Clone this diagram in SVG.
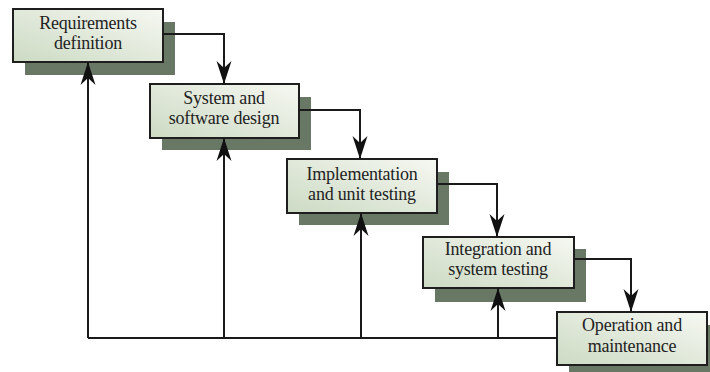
<svg xmlns="http://www.w3.org/2000/svg" width="710" height="372" viewBox="0 0 710 372">
<defs>
<linearGradient id="g" x1="0" y1="1" x2="1" y2="0">
<stop offset="0" stop-color="#ccdac3"/>
<stop offset="1" stop-color="#f6f8f2"/>
</linearGradient>
<marker id="ah" viewBox="-24 -9 26 18" refX="0" refY="0" markerWidth="26" markerHeight="18" markerUnits="userSpaceOnUse" orient="auto">
<path d="M0,0 L-23,-7.5 L-16,0 L-23,7.5 Z" fill="#111"/>
</marker>
</defs>
<style>
.sh{fill:#687865}
.bx{fill:url(#g);stroke:#1e1e1e;stroke-width:2}
.t{font-family:"Liberation Serif","Times New Roman",serif;font-size:18px;fill:#222;text-anchor:middle;letter-spacing:-0.2px}
.c{fill:none;stroke:#1a1a1a;stroke-width:2}
.a{fill:none;stroke:#1a1a1a;stroke-width:2;marker-end:url(#ah)}
</style>
<rect width="710" height="372" fill="#fff"/>
<g id="n1">
<rect class="sh" x="25" y="22" width="150" height="53"/>
<rect class="bx" x="13" y="9" width="150" height="53"/>
<text class="t" x="88" y="29">Requirements</text>
<text class="t" x="88" y="49">definition</text>
</g>
<g id="n2">
<rect class="sh" x="162" y="97" width="149" height="53"/>
<rect class="bx" x="150" y="84" width="149" height="54"/>
<text class="t" x="224" y="104">System and</text>
<text class="t" x="224" y="124">software design</text>
</g>
<g id="n3">
<rect class="sh" x="299" y="172" width="150" height="53"/>
<rect class="bx" x="287" y="159" width="150" height="54"/>
<text class="t" x="362" y="180">Implementation</text>
<text class="t" x="362" y="200">and unit testing</text>
</g>
<g id="n4">
<rect class="sh" x="435" y="249" width="151" height="53"/>
<rect class="bx" x="423" y="237" width="151" height="51"/>
<text class="t" x="498" y="255">Integration and</text>
<text class="t" x="498" y="275">system testing</text>
</g>
<g id="n5">
<rect class="sh" x="569" y="325" width="150" height="53"/>
<rect class="bx" x="557" y="312" width="150" height="53"/>
<text class="t" x="632" y="331">Operation and</text>
<text class="t" x="632" y="352">maintenance</text>
</g>
<g id="connectors">
<path class="a" d="M163,34 H224 V84"/>
<path class="a" d="M299,110 H360 V159"/>
<path class="a" d="M437,184 H497 V237"/>
<path class="a" d="M574,259 H631 V312"/>
<path class="c" d="M557,338 H88"/>
<path class="a" d="M88,338 V62"/>
<path class="a" d="M224,338 V138"/>
<path class="a" d="M361,338 V213"/>
<path class="a" d="M498,338 V288"/>
</g>
</svg>
